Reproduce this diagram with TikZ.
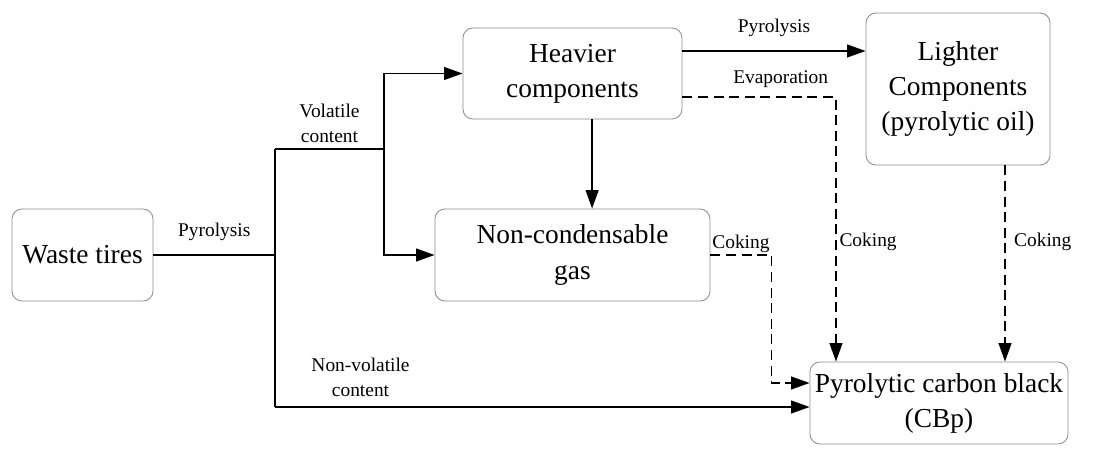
\documentclass[tikz,border=0pt]{standalone}
\usepackage{fontspec}
\newfontfamily\timesfont{Liberation Serif}
\usetikzlibrary{arrows.meta}
\definecolor{boxgray}{HTML}{8C8C8C}

\begin{document}
\begin{tikzpicture}[
      x=0.025cm, y=-0.025cm,
      box/.style={draw=boxgray, line width=0.6pt, rounded corners=0.25cm,
                  align=center, inner sep=0pt,
                  font=\timesfont\fontsize{19.5}{25}\selectfont},
      lbl/.style={font=\timesfont\fontsize{13.8}{17.5}\selectfont, align=center, inner sep=2pt},
      ln/.style={black, line width=1.05pt},
      ar/.style={ln, -{Triangle[length=0.46cm,width=0.32cm]}},
      dar/.style={ar, dash pattern=on 0.25cm off 0.14cm},
    ]
    \useasboundingbox (0,0) rectangle (1113,448);

    % ---------------- boxes
    \node[box, minimum width=3.525cm, minimum height=2.3cm]  (waste)   at (82.5,255) {Waste tires};
    \node[box, minimum width=5.475cm, minimum height=2.275cm] (heavy)  at (572.5,73.5) {Heavier\\components};
    \node[box, minimum width=6.875cm, minimum height=2.3cm]  (noncond) at (572.5,255) {Non-condensable\\gas};
    \node[box, minimum width=4.6cm, minimum height=3.8cm]    (light)   at (958,89) {Lighter\\Components\\(pyrolytic oil)};
    \node[box, minimum width=6.45cm, minimum height=2.05cm]  (cbp)     at (939,403) {Pyrolytic carbon black\\(CBp)};

    % ---------------- junctions
    \coordinate (split) at (275,255);
    \coordinate (vtop)  at (275,149);
    \coordinate (vbot)  at (275,407);
    \coordinate (fork)  at (384,149);

    % ---------------- solid connectors
    \draw[ln] (waste.east) -- node[lbl, above, yshift=8pt] {Pyrolysis} (split);
    \draw[ln] (vtop) -- (vbot);
    \draw[ln] (vtop) -- node[lbl, above, yshift=2pt] {Volatile\\content} (fork);
    \draw[ar] (fork) |- (heavy.west);
    \draw[ar] (fork) |- (noncond.west);
    \draw[ar] (vbot) -- node[lbl, above, pos=0.16, yshift=5pt] {Non-volatile\\content} (vbot -| cbp.west);
    \draw[ar] ([xshift=0.49cm]heavy.south) -- ([xshift=0.49cm]heavy.south |- noncond.north);
    \draw[ar] ([yshift=0.5625cm]heavy.east) -- node[lbl, above, yshift=8pt] {Pyrolysis}
      ([yshift=0.5625cm]heavy.east -| light.west);

    % ---------------- dashed connectors
    \draw[dar] ([yshift=-0.59cm]heavy.east) -| node[lbl, above, pos=0.32, yshift=4pt] {Evaporation}
      node[lbl, right, pos=0.774] {Coking} ([xshift=-2.575cm]cbp.north);
    \draw[dar] ([xshift=1.175cm]light.south) -- node[lbl, right, pos=0.39, xshift=4pt] {Coking}
      ([xshift=1.175cm]light.south |- cbp.north);
    \draw[dar] (noncond.east) -- node[lbl, above, inner sep=1pt] {Coking} ++(1.525cm,0)
      |- ([yshift=0.5cm]cbp.west);
  \end{tikzpicture}
\end{document}
